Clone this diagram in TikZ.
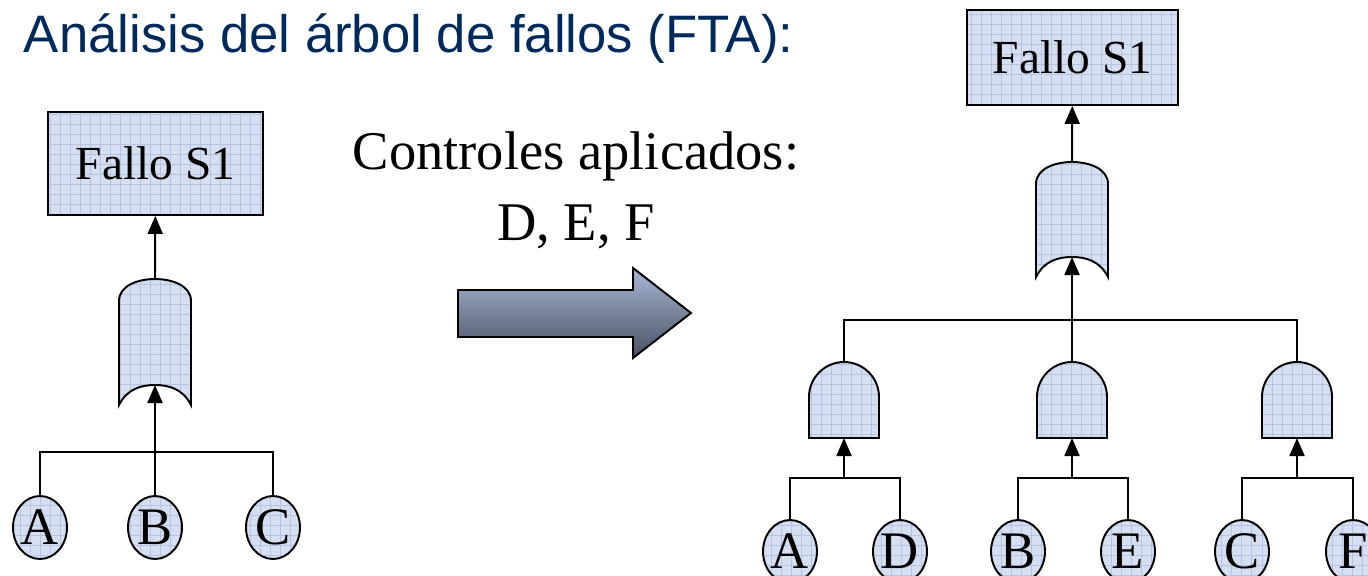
\documentclass[tikz,border=0pt]{standalone}
\usepackage{fontspec}
\setmainfont{Liberation Serif}
\newfontfamily\titlefont{Liberation Sans}
\usetikzlibrary{shapes.geometric,arrows.meta,patterns}

\definecolor{cellfill}{RGB}{214,223,241}
\definecolor{cellline}{RGB}{182,196,228}
\definecolor{titleblue}{RGB}{0,42,92}
\definecolor{arrtop}{RGB}{168,183,212}
\definecolor{arrbot}{RGB}{72,80,100}

\pgfdeclarepatternformonly{cellgrid}{\pgfpoint{-0.5pt}{-0.5pt}}{\pgfpoint{6.2pt}{6.2pt}}{\pgfpoint{5.7pt}{5.7pt}}{
  \pgfsetlinewidth{0.4pt}
  \pgfpathmoveto{\pgfpoint{0pt}{0pt}}\pgfpathlineto{\pgfpoint{5.7pt}{0pt}}
  \pgfpathmoveto{\pgfpoint{0pt}{0pt}}\pgfpathlineto{\pgfpoint{0pt}{5.7pt}}
  \pgfusepath{stroke}}

\begin{document}
\begin{tikzpicture} [
        x=0.02cm, y=-0.02cm,
        line width=1.1pt,
        cell/.style={preaction={fill=cellfill}, pattern=cellgrid, pattern color=cellline},
        evt/.style n args={2}{
        cell, draw, rectangle,
        minimum width=#1, minimum height=#2,
        font=\fontsize{27}{30}\selectfont
        },
        basic/.style={
        cell, draw, ellipse, inner sep=0pt,
        minimum width=1.08cm, minimum height=1.26cm,
        font=\fontsize{30}{30}\selectfont
        },
        arr/.style={-{Triangle[length=0.36cm,width=0.3cm]}},
        orgate/.pic={
        \path[cell, draw] (-36,#1) -- (-36,22) .. controls (-36,6) and (-16,0) .. (0,0)
            .. controls (16,0) and (36,6) .. (36,22) -- (36,#1)
            .. controls (28,#1-16) and (14,#1-20) .. (0,#1-20)
            .. controls (-14,#1-20) and (-28,#1-16) .. (-36,#1) -- cycle;
        \coordinate (-top) at (0,0);
        \coordinate (-in) at (0,#1-20);
        },
        andgate/.pic={
        \path[cell, draw] (-35,76) -- (-35,35) .. controls (-35,15.7) and (-19.3,0) .. (0,0)
            .. controls (19.3,0) and (35,15.7) .. (35,35) -- (35,76) -- cycle;
        \coordinate (-top) at (0,0);
        \coordinate (-in) at (0,76);
        }
    ]

    % un pixel del dibujo es 0.02cm
    \useasboundingbox (0,0) rectangle (1368,575);

    \node[anchor=base west, inner sep=0pt, text=titleblue,
        font=\titlefont\fontsize{30}{36}\selectfont] (ttl) at (23,52) {Análisis del árbol de fallos (FTA):};

    \node[evt = {4.3cm}{2.06cm}] (L1) at (155.5,163.5) {Fallo S1};
    \pic (g0) at (155,279) {orgate=126};
    \node[basic] (A) at (40,527.5) {A};
    \node[basic] (B) at (155,527.5) {B};
    \node[basic] (C) at (273,527.5) {C};
    \coordinate (lbus) at (155,452);
    \draw[arr] (g0-top) -- (L1);
    \draw (A) |- (lbus) -| (C);
    \draw[arr] (B) -- (g0-in);

    \node[anchor=base, align=center, inner sep=0pt,
        font=\fontsize{31}{40}\selectfont] (ctl) at (576,240) {Controles aplicados:\\D, E, F};
    \path[draw, top color=arrtop, bottom color=arrbot] (458,290) -- (633,290) -- (633,268)
        -- (691,313) -- (633,358) -- (633,337) -- (458,337) -- cycle;

    \node[evt = {4.22cm}{1.9cm}] (R1) at (1072.5,57.5) {Fallo S1};
    \pic (g1) at (1072,162) {orgate=115};
    \pic (a1) at (844,362) {andgate};
    \pic (a2) at (1072,362) {andgate};
    \pic (a3) at (1297,362) {andgate};
    \node[basic] (A2) at (790,551.5) {A};
    \node[basic] (D) at (900,551.5) {D};
    \node[basic] (B2) at (1018,551.5) {B};
    \node[basic] (E) at (1128,551.5) {E};
    \node[basic] (C2) at (1242,551.5) {C};
    \node[basic] (F) at (1353,551.5) {F};
    \coordinate (rbus) at (1072,320);
    \coordinate (s1) at (844,478);
    \coordinate (s2) at (1072,478);
    \coordinate (s3) at (1297,478);
    \draw[arr] (g1-top) -- (R1);
    \draw (a1-top) |- (rbus) -| (a3-top);
    \draw[arr] (a2-top) -- (g1-in);
    \draw (A2) |- (s1) -| (D);
    \draw (B2) |- (s2) -| (E);
    \draw (C2) |- (s3) -| (F);
    \draw[arr] (s1) -- (a1-in);
    \draw[arr] (s2) -- (a2-in);
    \draw[arr] (s3) -- (a3-in);

\end{tikzpicture}
\end{document}
